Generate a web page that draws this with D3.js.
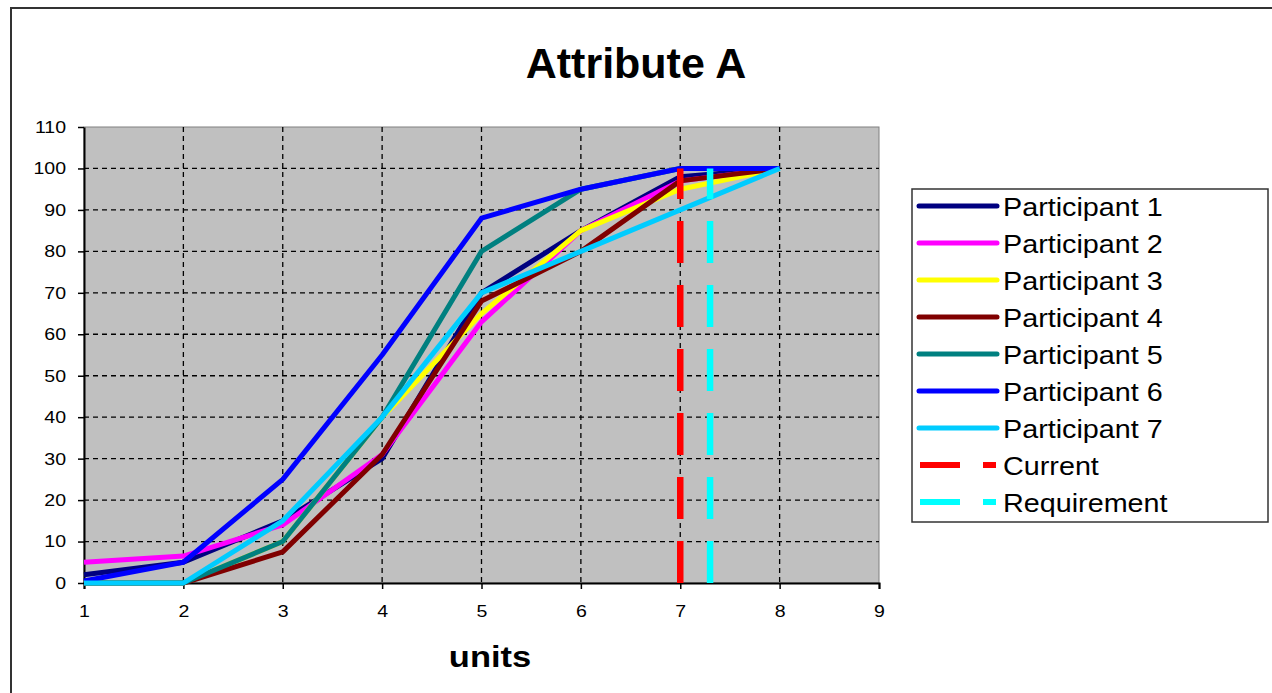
<!DOCTYPE html>
<html>
<head>
<meta charset="utf-8">
<script src="https://d3js.org/d3.v7.min.js"></script>
<style>
  body { margin: 0; background: #fff; }
  text { font-family: Arial, 'Liberation Sans', sans-serif; fill: #000; }
</style>
</head>
<body>
<svg id="chart" width="1272" height="693"></svg>
<script>
// data
var units = [1, 2, 3, 4, 5, 6, 7, 8]
var participant1 = [2, 5, 15, 30, 70, 85, 98, 100]
var participant2 = [5, 6.5, 14, 31, 63, 85, 97, 100]
var participant3 = [0, 0, 10, 40, 65, 85, 95, 100]
var participant4 = [0, 0, 7.5, 31, 68, 80, 97, 100]
var participant5 = [0, 0, 10, 40, 80, 95, 100, 100]
var participant6 = [0.5, 5, 25, 55, 88, 95, 100, 100]
var participant7 = [0, 0, 15, 40, 70, 80, 90, 100]
var currentX = 7
var requirementX = 7.3
var markerRange = [0, 100]
var xTicks = [1, 2, 3, 4, 5, 6, 7, 8, 9]
var yTicks = [0, 10, 20, 30, 40, 50, 60, 70, 80, 90, 100, 110]

var series = [
  { name: 'Participant 1', values: participant1, color: '#000080' },
  { name: 'Participant 2', values: participant2, color: '#FF00FF' },
  { name: 'Participant 3', values: participant3, color: '#FFFF00' },
  { name: 'Participant 4', values: participant4, color: '#800000' },
  { name: 'Participant 5', values: participant5, color: '#008080' },
  { name: 'Participant 6', values: participant6, color: '#0000FF' },
  { name: 'Participant 7', values: participant7, color: '#00CCFF' }
]
var markers = [
  { name: 'Current', x: currentX, color: '#FF0000' },
  { name: 'Requirement', x: requirementX, color: '#00FFFF' }
]

var svg = d3.select('#chart')
var stretch = 1.15

// outer frame
svg.append('rect')
  .attr('x', 11).attr('y', 8)
  .attr('width', 1272).attr('height', 700)
  .attr('fill', '#fff')
  .attr('stroke', '#333').attr('stroke-width', 2)

var margin = { top: 127, left: 84 },
  width = 879 - 84,
  height = 583 - 127

var x = d3.scaleLinear().domain([1, 9]).range([0, width])
var y = d3.scaleLinear().domain([0, 110]).range([height, 0])

var g = svg.append('g')
  .attr('transform', 'translate(' + margin.left + ',' + margin.top + ')')

g.append('rect')
  .attr('width', width).attr('height', height)
  .attr('fill', '#C0C0C0')
  .attr('stroke', '#808080').attr('stroke-width', 1)

// gridlines
g.append('g')
  .selectAll('line')
  .data(yTicks.filter(function (d) { return d > 0 && d < 110 }))
  .enter()
  .append('line')
  .attr('x1', 0).attr('x2', width)
  .attr('y1', function (d) { return y(d) })
  .attr('y2', function (d) { return y(d) })
  .attr('stroke', '#000').attr('stroke-width', 1.3)
  .attr('stroke-dasharray', '5,4')

g.append('g')
  .selectAll('line')
  .data(xTicks.filter(function (d) { return d > 1 && d < 9 }))
  .enter()
  .append('line')
  .attr('y1', 0).attr('y2', height)
  .attr('x1', function (d) { return x(d) })
  .attr('x2', function (d) { return x(d) })
  .attr('stroke', '#000').attr('stroke-width', 1.3)
  .attr('stroke-dasharray', '5,4')

// axes
var xAxis = g.append('g')
  .attr('transform', 'translate(0,' + height + ')')
  .call(d3.axisBottom(x).tickValues(xTicks).tickSize(6).tickPadding(16).tickFormat(d3.format('d')))
xAxis.select('.domain').attr('stroke-width', 2)
xAxis.selectAll('line').attr('stroke-width', 1.5)
xAxis.selectAll('text')
  .style('font-size', '17px')
  .attr('transform', 'scale(' + stretch + ',1)')

var yAxis = g.append('g')
  .call(d3.axisLeft(y).tickValues(yTicks).tickSize(6).tickPadding(12).tickSizeOuter(0))
yAxis.select('.domain').attr('stroke-width', 2)
yAxis.selectAll('line').attr('stroke-width', 1.5)
yAxis.selectAll('text')
  .style('font-size', '17px')
  .attr('transform', 'scale(' + stretch + ',1)')
  .attr('x', -18 / stretch)

// participant lines
var line = d3.line()
  .x(function (d, i) { return x(units[i]) })
  .y(function (d) { return y(d) })

g.selectAll('.series')
  .data(series)
  .enter()
  .append('path')
  .attr('class', 'series')
  .attr('d', function (d) { return line(d.values) })
  .attr('fill', 'none')
  .attr('stroke', function (d) { return d.color })
  .attr('stroke-width', 5)
  .attr('stroke-linejoin', 'round')

// current / requirement dashed verticals
g.selectAll('.marker')
  .data(markers)
  .enter()
  .append('line')
  .attr('class', 'marker')
  .attr('x1', function (d) { return x(d.x) })
  .attr('x2', function (d) { return x(d.x) })
  .attr('y1', y(markerRange[0]))
  .attr('y2', y(markerRange[1]))
  .attr('stroke', function (d) { return d.color })
  .attr('stroke-width', 6.5)
  .attr('stroke-dasharray', '42,22')

// titles
svg.append('text')
  .attr('x', 636).attr('y', 78)
  .attr('text-anchor', 'middle')
  .style('font-size', '43px')
  .style('font-weight', 'bold')
  .text('Attribute A')

svg.append('text')
  .attr('transform', 'translate(490,667) scale(' + stretch + ',1)')
  .attr('text-anchor', 'middle')
  .style('font-size', '30px')
  .style('font-weight', 'bold')
  .text('units')

// legend
var legendG = svg.append('g')
legendG.append('rect')
  .attr('x', 912).attr('y', 189)
  .attr('width', 356).attr('height', 333)
  .attr('fill', '#fff')
  .attr('stroke', '#333').attr('stroke-width', 1.5)

var legendItems = series.map(function (s) { return { name: s.name, color: s.color, dashed: false } })
  .concat(markers.map(function (m) { return { name: m.name, color: m.color, dashed: true } }))

var row = legendG.selectAll('.legend')
  .data(legendItems)
  .enter()
  .append('g')
  .attr('class', 'legend')
  .attr('transform', function (d, i) { return 'translate(0,' + (206 + i * 37) + ')' })

row.filter(function (d) { return !d.dashed })
  .append('line')
  .attr('x1', 919).attr('x2', 997)
  .attr('stroke', function (d) { return d.color })
  .attr('stroke-width', 5)
  .attr('stroke-linecap', 'round')

row.filter(function (d) { return d.dashed })
  .append('line')
  .attr('x1', 920).attr('x2', 996)
  .attr('stroke', function (d) { return d.color })
  .attr('stroke-width', 6)
  .attr('stroke-dasharray', '40,23')

row.append('text')
  .attr('transform', 'translate(1003,10) scale(' + stretch + ',1)')
  .style('font-size', '25px')
  .text(function (d) { return d.name })
</script>
</body>
</html>
